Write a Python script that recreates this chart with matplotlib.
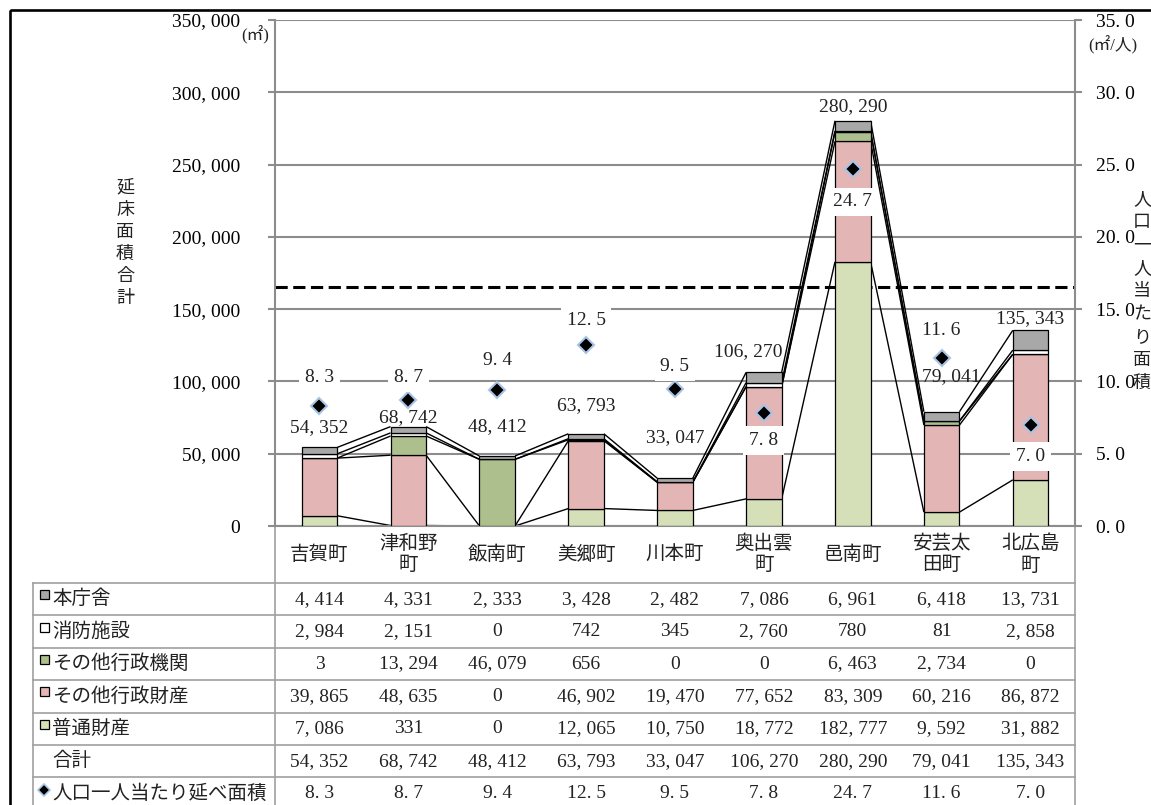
import matplotlib
matplotlib.use("Agg")
import matplotlib.pyplot as plt
from matplotlib.patches import Rectangle
from matplotlib.lines import Line2D
import matplotlib.ticker as mticker

plt.rcParams['font.family'] = ['Liberation Serif', 'Noto Sans CJK JP']

# ---- data ----
towns = ['吉賀町', '津和野\n町', '飯南町', '美郷町', '川本町',
         '奥出雲\n町', '邑南町', '安芸太\n田町', '北広島\n町']
honchousha = [4414, 4331, 2333, 3428, 2482, 7086, 6961, 6418, 13731]      # 本庁舎
shobo = [2984, 2151, 0, 742, 345, 2760, 780, 81, 2858]                     # 消防施設
sonota_kikan = [3, 13294, 46079, 656, 0, 0, 6463, 2734, 0]                 # その他行政機関
sonota_zaisan = [39865, 48635, 0, 46902, 19470, 77652, 83309, 60216, 86872]  # その他行政財産
futsu_zaisan = [7086, 331, 0, 12065, 10750, 18772, 182777, 9592, 31882]    # 普通財産
totals = [54352, 68742, 48412, 63793, 33047, 106270, 280290, 79041, 135343]
per_capita = [8.3, 8.7, 9.4, 12.5, 9.5, 7.8, 24.7, 11.6, 7.0]
peer_average = 16.5

# ---- styling ----
W, H = 1151, 805
AX_L, AX_R, AX_T, AX_B = 275, 1075, 20, 526
GRID = '#8c8c8c'
TABLE_LINE = '#a0a0a0'
FS = 14

colors = {
    '普通財産': '#d5e0b9',
    'その他行政財産': '#e3b5b5',
    'その他行政機関': '#adbf8d',
    '消防施設': '#ffffff',
    '本庁舎': '#a8a8a8',
}
# bottom-to-top stacking
stack = [('普通財産', futsu_zaisan), ('その他行政財産', sonota_zaisan),
         ('その他行政機関', sonota_kikan), ('消防施設', shobo), ('本庁舎', honchousha)]

# label placement (pixels)
total_label_dy = [20, 9, 29, 28, 41, 21, 14, 35, 12]
total_label_dx = [0, 0, 0, 0, 0, -16, 0, 10, 0]
rate_label_dy = [29, 23, 30, 25, 22, -27, -33, 28, -32]


def fmt_int(v):
    return f"{int(round(v)):,}".replace(',', ', ')


def fmt_rate(v):
    return f"{v:.1f}".replace('.', '. ')


fig = plt.figure(figsize=(W / 100, H / 100), dpi=100)
fig.patch.set_facecolor('white')

# full-figure overlay in pixel coordinates (table, titles, frame)
ov = fig.add_axes([0, 0, 1, 1], zorder=0)
ov.set_xlim(0, W)
ov.set_ylim(H, 0)
ov.axis('off')

ax = fig.add_axes([AX_L / W, 1 - AX_B / H, (AX_R - AX_L) / W, (AX_B - AX_T) / H], zorder=1)
n = len(towns)
x = [i + 0.5 for i in range(n)]
bw = 0.4

ax.set_xlim(0, n)
ax.set_ylim(0, 350000)
ax.set_yticks(range(0, 350001, 50000))
ax.yaxis.set_major_formatter(mticker.FuncFormatter(lambda v, p: fmt_int(v)))
ax.yaxis.grid(True, color=GRID, lw=1.5)
ax.set_axisbelow(True)
ax.set_xticks([])
for side in ['top', 'right']:
    ax.spines[side].set_visible(False)
for side in ['left', 'bottom']:
    ax.spines[side].set_color(GRID)
    ax.spines[side].set_linewidth(1.5)
ax.tick_params(axis='y', length=5, width=1.5, color=GRID, labelsize=FS, pad=20)

# average line
ax.axhline(peer_average * 10000, color='black', lw=2.2, dashes=(4, 1.8), zorder=1.5)

# stacked columns
bottom = [0] * n
levels = []
for name, vals in stack:
    ax.bar(x, vals, bw, bottom=bottom, color=colors[name], edgecolor='black',
           linewidth=0.9, zorder=3)
    bottom = [b + v for b, v in zip(bottom, vals)]
    levels.append(list(bottom))

# series lines between adjacent columns
for lv in levels:
    for i in range(n - 1):
        ax.plot([x[i] + bw / 2, x[i + 1] - bw / 2], [lv[i], lv[i + 1]],
                color='black', lw=1.0, zorder=2.5, solid_capstyle='butt')

# total labels
for i in range(n):
    ax.annotate(fmt_int(totals[i]), (x[i], totals[i]),
                xytext=(total_label_dx[i], total_label_dy[i]), textcoords='offset pixels',
                ha='center', va='center', fontsize=FS, color='#222222', zorder=5)

# secondary axis: floor area per person
ax2 = ax.twinx()
ax2.set_zorder(2)
ax2.patch.set_visible(False)
ax2.set_ylim(0, 35)
ax2.set_yticks(range(0, 36, 5))
ax2.yaxis.set_major_formatter(mticker.FuncFormatter(lambda v, p: fmt_rate(v)))
for side in ['top', 'left', 'bottom']:
    ax2.spines[side].set_visible(False)
ax2.spines['right'].set_color(GRID)
ax2.spines['right'].set_linewidth(1.5)
ax2.tick_params(axis='y', length=5, width=1.5, color=GRID, labelsize=FS, pad=10)

ax2.plot(x, per_capita, ls='none', marker='D', ms=8, mfc='black', mec='#a9c4e4',
         mew=1.5, zorder=4)
for i in range(n):
    ax2.annotate(fmt_rate(per_capita[i]), (x[i], per_capita[i]),
                 xytext=(0, rate_label_dy[i]), textcoords='offset pixels',
                 ha='center', va='center', fontsize=FS, color='#222222', zorder=6,
                 bbox=dict(boxstyle='square,pad=0.3', fc='white', ec='none'))

# annotation of peer average
ov.text(332, 268, '比較団体平均16.5㎡/人', fontsize=13, ha='left', va='center', color='#222222')

# unit labels
ov.text(255, 35, '(㎡)', fontsize=12, ha='center', va='center', color='#222222')
ov.text(1113, 45, '(㎡/人)', fontsize=12, ha='center', va='center', color='#222222')

# vertical axis titles
for k, ch in enumerate('延床面積合計'):
    ov.text(125, 188 + 22 * k, ch, fontsize=13, ha='center', va='center', color='#222222')
for k, ch in enumerate('人口一人当たり面積'):
    ov.text(1142, 200 + 22.9 * k, ch, fontsize=13, ha='center', va='center', color='#222222')

# ---- data table ----
col_w = (AX_R - AX_L) / n
col_c = [AX_L + (i + 0.5) * col_w for i in range(n)]
TBL_L = 33
ROW_TOP = 583
ROW_H = 32.4

for i, t in enumerate(towns):
    ov.text(col_c[i], (AX_B + ROW_TOP) / 2, t, fontsize=FS, ha='center', va='center',
            linespacing=1.3, color='#222222')

row_labels = ['本庁舎', '消防施設', 'その他行政機関', 'その他行政財産', '普通財産', '合計',
              '人口一人当たり延べ面積']
row_keys = ['本庁舎', '消防施設', 'その他行政機関', 'その他行政財産', '普通財産', None, 'diamond']
row_vals = [honchousha, shobo, sonota_kikan, sonota_zaisan, futsu_zaisan, totals, per_capita]

n_rows = len(row_labels)
for r in range(n_rows + 1):
    y = ROW_TOP + r * ROW_H
    ov.add_line(Line2D([TBL_L, AX_R], [y, y], color=TABLE_LINE, lw=1.2))
ov.add_line(Line2D([TBL_L, TBL_L], [ROW_TOP, H + 10], color=TABLE_LINE, lw=1.2))
ov.add_line(Line2D([AX_L, AX_L], [AX_B, H + 10], color=TABLE_LINE, lw=1.2))
ov.add_line(Line2D([AX_R, AX_R], [AX_B, H + 10], color=TABLE_LINE, lw=1.2))

for r in range(n_rows):
    yc = ROW_TOP + (r + 0.5) * ROW_H
    key = row_keys[r]
    if key == 'diamond':
        ov.plot([44], [yc - 4], marker='D', ms=6, mfc='black', mec='#a9c4e4', mew=1.2)
    elif key is not None:
        ov.add_patch(Rectangle((40, yc - 9), 9, 9, fc=colors[key], ec='black', lw=0.9))
    ov.text(52, yc, row_labels[r], fontsize=FS, ha='left', va='center', color='#222222')
    for i in range(n):
        v = row_vals[r][i]
        s = fmt_rate(v) if r == n_rows - 1 else fmt_int(v)
        ov.text(col_c[i], yc, s, fontsize=FS, ha='center', va='center', color='#222222')

# outer frame
ov.add_patch(Rectangle((10, 10), W + 50, H + 50, fill=False, ec='black', lw=1.9))

fig.savefig('out.png', dpi=100)
